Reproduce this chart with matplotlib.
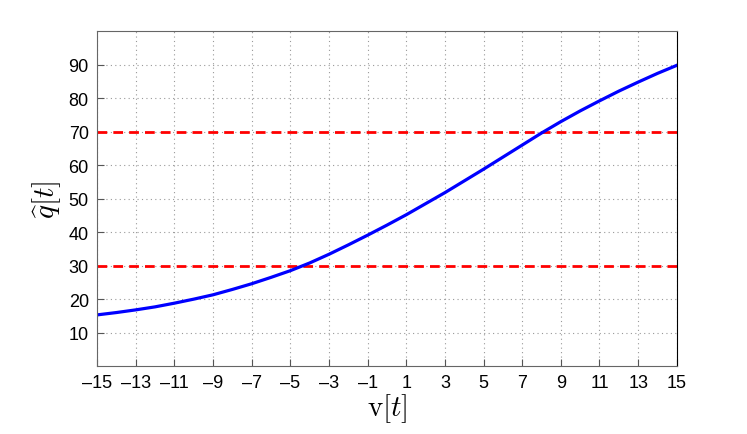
import numpy as np
import matplotlib.pyplot as plt

plt.rcParams['font.family'] = ['Liberation Sans', 'DejaVu Sans']
plt.rcParams['mathtext.fontset'] = 'cm'

# curve values
v = list(range(-15, 16))
q = [15.3, 16.0, 16.8, 17.7, 18.8, 20.0, 21.3, 22.9, 24.6, 26.5, 28.5, 30.8,
     33.4, 36.2, 39.1, 42.1, 45.2, 48.5, 51.8, 55.3, 58.8, 62.4, 66.0, 69.6,
     73.0, 76.2, 79.2, 82.1, 84.8, 87.4, 89.8]
thresholds = [30, 70]
xticks = list(range(-15, 16, 2))
yticks = list(range(10, 100, 10))

fig = plt.figure(figsize=(7.47, 4.35), dpi=100)
ax = fig.add_axes([0.130, 0.156, 0.776, 0.770])

for th in thresholds:
    ax.axhline(th, color='red', linestyle=(0, (3.5, 2.2)), linewidth=2.0)
ax.plot(v, q, color='blue', linewidth=2.3)

ax.set_xlim(-15, 15)
ax.set_ylim(0, 100)
ax.set_xticks(xticks)
ax.set_yticks(yticks)
ax.set_xticklabels(['\u2013%d' % -t if t < 0 else '%d' % t for t in xticks])
ax.tick_params(direction='in', length=5, color='#555555', labelsize=13, pad=6)
ax.grid(True, linestyle=(0, (1, 3)), color='#999999', linewidth=0.8)
for s in ['left', 'bottom', 'top']:
    ax.spines[s].set_color('#666666')
ax.spines['right'].set_color('black')

ax.set_xlabel(r'$\mathrm{v}[t]$', fontsize=21, labelpad=0)
ax.set_ylabel(r'$\widehat{q}[t]$', fontsize=21, labelpad=4)

fig.savefig('out.png', dpi=100)
